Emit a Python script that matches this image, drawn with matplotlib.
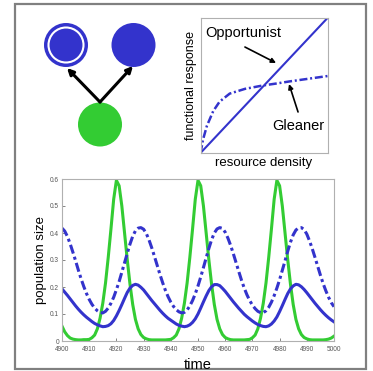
import matplotlib
matplotlib.use("Agg")

import matplotlib.pyplot as plt
import matplotlib.patches as mpatches
import numpy as np

plt.rcParams["font.family"] = ["Liberation Sans", "DejaVu Sans"]

BLUE = "#3333cc"
GREEN = "#33cc33"

# time series (population size vs time)
time = np.arange(4900, 5001)
resource = [
    0.055, 0.034, 0.020, 0.011, 0.007, 0.005, 0.004, 0.004, 0.005, 0.005,
    0.006, 0.012, 0.022, 0.045, 0.085, 0.140, 0.215, 0.310, 0.415, 0.525,
    0.595, 0.575, 0.500, 0.400, 0.300, 0.210, 0.135, 0.080, 0.045, 0.024,
    0.013, 0.008, 0.005, 0.004, 0.004, 0.004, 0.004, 0.004, 0.004, 0.005,
    0.006, 0.012, 0.022, 0.045, 0.085, 0.140, 0.215, 0.310, 0.415, 0.525,
    0.595, 0.575, 0.500, 0.400, 0.300, 0.210, 0.135, 0.080, 0.045, 0.024,
    0.013, 0.008, 0.005, 0.004, 0.004, 0.004, 0.004, 0.004, 0.005, 0.006,
    0.012, 0.022, 0.045, 0.085, 0.140, 0.215, 0.310, 0.415, 0.525, 0.595,
    0.575, 0.500, 0.400, 0.300, 0.210, 0.135, 0.080, 0.045, 0.024, 0.013,
    0.008, 0.005, 0.004, 0.004, 0.004, 0.004, 0.004, 0.005, 0.007, 0.011,
    0.018,
]
opportunist = [
    0.193, 0.181, 0.169, 0.156, 0.143, 0.130, 0.118, 0.107, 0.097, 0.088,
    0.080, 0.072, 0.065, 0.060, 0.056, 0.053, 0.054, 0.057, 0.064, 0.076,
    0.093, 0.113, 0.135, 0.158, 0.180, 0.196, 0.206, 0.210, 0.207, 0.199,
    0.189, 0.176, 0.163, 0.150, 0.138, 0.126, 0.114, 0.103, 0.093, 0.084,
    0.077, 0.070, 0.063, 0.058, 0.055, 0.053, 0.055, 0.060, 0.069, 0.082,
    0.100, 0.122, 0.145, 0.167, 0.187, 0.201, 0.209, 0.209, 0.205, 0.195,
    0.184, 0.171, 0.158, 0.145, 0.133, 0.121, 0.110, 0.099, 0.090, 0.082,
    0.074, 0.067, 0.061, 0.057, 0.054, 0.053, 0.056, 0.063, 0.074, 0.089,
    0.109, 0.131, 0.154, 0.176, 0.193, 0.204, 0.210, 0.208, 0.201, 0.191,
    0.179, 0.166, 0.153, 0.140, 0.128, 0.116, 0.105, 0.095, 0.086, 0.078,
    0.071,
]
gleaner = [
    0.418, 0.407, 0.387, 0.360, 0.329, 0.297, 0.263, 0.231, 0.202, 0.176,
    0.154, 0.136, 0.122, 0.112, 0.105, 0.104, 0.110, 0.122, 0.140, 0.162,
    0.190, 0.220, 0.255, 0.290, 0.325, 0.359, 0.388, 0.408, 0.418, 0.420,
    0.414, 0.398, 0.374, 0.345, 0.313, 0.280, 0.247, 0.216, 0.188, 0.164,
    0.144, 0.128, 0.116, 0.108, 0.104, 0.106, 0.115, 0.130, 0.150, 0.175,
    0.204, 0.237, 0.272, 0.308, 0.343, 0.375, 0.400, 0.415, 0.420, 0.417,
    0.403, 0.381, 0.354, 0.323, 0.290, 0.257, 0.225, 0.196, 0.171, 0.150,
    0.133, 0.120, 0.110, 0.105, 0.105, 0.112, 0.125, 0.144, 0.168, 0.196,
    0.227, 0.262, 0.297, 0.333, 0.366, 0.393, 0.411, 0.419, 0.420, 0.413,
    0.396, 0.371, 0.342, 0.310, 0.277, 0.244, 0.213, 0.186, 0.162, 0.142,
    0.127,
]
time_ticks = list(range(4900, 5001, 10))
size_ticks = [0, 0.1, 0.2, 0.3, 0.4, 0.5, 0.6]
size_labels = ["0", "0.1", "0.2", "0.3", "0.4", "0.5", "0.6"]

# functional response sketch
density = [0, 1]
opp_response = [0, 1]
gl_density = [0, 0.02, 0.05, 0.1, 0.15, 0.23, 0.35, 0.49, 0.6, 0.7, 0.85, 1.0]
gl_response = [0, 0.1, 0.2, 0.31, 0.38, 0.44, 0.475, 0.5, 0.515, 0.53, 0.55, 0.57]

W, H = 373, 371
fig = plt.figure(figsize=(W / 100, H / 100), dpi=100)
fig.patch.set_facecolor("white")

# overlay in pixel coords for the food-web diagram and outer frame
bg = fig.add_axes([0, 0, 1, 1])
bg.set_xlim(0, W)
bg.set_ylim(H, 0)
bg.axis("off")
bg.add_patch(mpatches.Rectangle((15, 4), 351, 365, fill=False,
                                edgecolor="#808080", linewidth=1.6))

# consumers and resource
bg.add_patch(mpatches.Circle((66, 45), 22, facecolor=BLUE, edgecolor="none"))
bg.add_patch(mpatches.Circle((66, 45), 17.5, facecolor="none",
                             edgecolor="white", linewidth=1.5))
bg.add_patch(mpatches.Circle((133.5, 45), 22, facecolor=BLUE, edgecolor="none"))
bg.add_patch(mpatches.Circle((100, 124.5), 22, facecolor=GREEN, edgecolor="none"))
for end in [(67, 68), (133, 66)]:
    bg.add_patch(mpatches.FancyArrowPatch(
        (100, 102), end, arrowstyle="-|>", mutation_scale=9,
        color="black", linewidth=2.2, shrinkA=0, shrinkB=0))

# functional response inset
ax1 = fig.add_axes([200.5 / W, 1 - 153 / H, 127 / W, 135 / H])
ax1.plot(density, opp_response, color=BLUE, linewidth=1.5)
ax1.plot(gl_density, gl_response, color=BLUE, linewidth=1.8,
         linestyle=(0, (3.2, 1.1, 0.8, 1.1)))
ax1.set_xlim(0, 1)
ax1.set_ylim(0, 1)
ax1.set_xticks([])
ax1.set_yticks([])
for sp in ax1.spines.values():
    sp.set_color("#b0b0b0")
    sp.set_linewidth(0.8)
ax1.set_xlabel("resource density", fontsize=9.5, labelpad=3)
ax1.set_ylabel("functional response", fontsize=9, labelpad=2.5)
ax1.text(0.335, 0.89, "Opportunist", ha="center", va="center", fontsize=10.5)
ax1.text(0.77, 0.2, "Gleaner", ha="center", va="center", fontsize=10.5)
ax1.annotate("", xy=(0.595, 0.667), xytext=(0.35, 0.785),
             arrowprops=dict(arrowstyle="-|>", color="black", lw=1.2,
                             mutation_scale=7, shrinkA=0, shrinkB=0))
ax1.annotate("", xy=(0.697, 0.511), xytext=(0.768, 0.304),
             arrowprops=dict(arrowstyle="-|>", color="black", lw=1.2,
                             mutation_scale=7, shrinkA=0, shrinkB=0))

# population dynamics
ax2 = fig.add_axes([62 / W, 1 - 341 / H, 272 / W, 162 / H])
ax2.plot(time, resource, color=GREEN, linewidth=2.2)
ax2.plot(time, opportunist, color=BLUE, linewidth=2.2)
ax2.plot(time, gleaner, color=BLUE, linewidth=2.2,
         linestyle=(0, (3, 1.1, 1, 1.1)))
ax2.set_xlim(4900, 5000)
ax2.set_ylim(0, 0.6)
ax2.set_xticks(time_ticks)
ax2.set_yticks(size_ticks)
ax2.set_yticklabels(size_labels)
ax2.tick_params(labelsize=4.7, colors="#555555", direction="in", length=2,
                width=0.5)
ax2.tick_params(axis="x", pad=3.5)
ax2.tick_params(axis="y", pad=2)
for sp in ax2.spines.values():
    sp.set_color("#b0b0b0")
    sp.set_linewidth(0.8)
ax2.set_xlabel("time", fontsize=10.5, labelpad=4)
ax2.set_ylabel("population size", fontsize=9.5, labelpad=2)

fig.savefig("out.png", dpi=100)
